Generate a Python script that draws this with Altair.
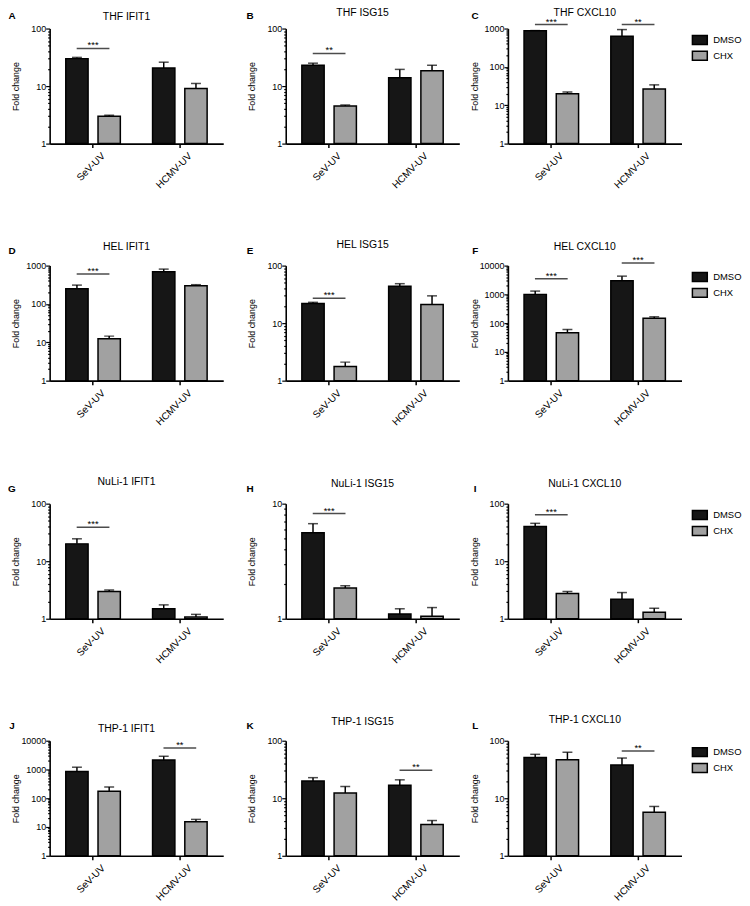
import altair as alt
import pandas as pd

FONT = "Liberation Sans"

# ---------------- data ----------------
titles = ["THF IFIT1", "THF ISG15", "THF CXCL10",
          "HEL IFIT1", "HEL ISG15", "HEL CXCL10",
          "NuLi-1 IFIT1", "NuLi-1 ISG15", "NuLi-1 CXCL10",
          "THP-1 IFIT1", "THP-1 ISG15", "THP-1 CXCL10"]
letters = ["A", "B", "C", "D", "E", "F", "G", "H", "I", "J", "K", "L"]
y_max = [100, 100, 1000, 1000, 100, 10000, 100, 10, 100, 10000, 100, 100]
groups = ["SeV-UV", "HCMV-UV"]
treatments = ["DMSO", "CHX"]
colors = ["#161616", "#a1a1a1"]

# mean values and upper end of error bar (mean + SEM)
dmso_sev = [30, 23, 870, 250, 22, 1000, 20, 5.6, 40, 850, 20, 51]
dmso_sev_up = [31.5, 25, 885, 310, 23, 1300, 24.5, 6.7, 45.5, 1200, 22.8, 58]
chx_sev = [3.0, 4.5, 20, 12.4, 1.76, 46, 2.96, 1.85, 2.74, 174, 12.3, 46.6]
chx_sev_up = [3.1, 4.7, 22, 14.5, 2.1, 60, 3.16, 1.93, 2.96, 245, 16, 63]
dmso_hcmv = [20.6, 14, 630, 690, 43.7, 3000, 1.49, 1.1, 2.19, 2150, 16.9, 38]
dmso_hcmv_up = [26, 19.5, 940, 810, 48.5, 4300, 1.74, 1.22, 2.85, 2880, 20.9, 50]
chx_hcmv = [9.1, 18.5, 26.5, 300, 21, 148, 1.07, 1.05, 1.3, 15.3, 3.5, 5.7]
chx_hcmv_up = [11.1, 23, 34, 318, 29.8, 166, 1.19, 1.25, 1.52, 18.4, 4.1, 7.2]

sig_sev = ["***", "**", "***", "***", "***", "***", "***", "***", "***", "", "", ""]
sig_sev_y = [45, 37, 1270, 600, 27, 3470, 39, 8.2, 64, None, None, None]
sig_hcmv = ["", "", "**", "", "", "***", "", "", "", "**", "**", "**"]
sig_hcmv_y = [None, None, 1270, None, None, 12300, None, None, None, 5600, 30.6, 66.5]

# ---------------- styling / layout ----------------
title_y = [-12, -16, -16, -19, -21, -19, -22, -20, -20, -12, -19, -21]
letter_x = [-38, -36, -33]
letter_y = [-13, -15, -15, -15]
PW, PH = 175, 116

MAJOR = "indexof([1, 10, 100, 1000, 10000], datum.value) >= 0"


def log_ticks(top):
    vals = []
    d = 1
    while d < top:
        vals += [m * d for m in range(1, 10)]
        d *= 10
    vals.append(top)
    return vals


def panel(i):
    row, col = divmod(i, 3)
    df = pd.DataFrame({
        "group": [groups[0], groups[0], groups[1], groups[1]],
        "treatment": ["DMSO", "CHX", "DMSO", "CHX"],
        "value": [dmso_sev[i], chx_sev[i], dmso_hcmv[i], chx_hcmv[i]],
        "upper": [dmso_sev_up[i], chx_sev_up[i], dmso_hcmv_up[i], chx_hcmv_up[i]],
    })
    sg, sy, st = [], [], []
    if sig_sev[i]:
        sg.append(groups[0]); sy.append(sig_sev_y[i]); st.append(sig_sev[i])
    if sig_hcmv[i]:
        sg.append(groups[1]); sy.append(sig_hcmv_y[i]); st.append(sig_hcmv[i])
    sdf = pd.DataFrame({"group": sg, "sig": sy, "stars": st})

    yscale = alt.Scale(type="log", domain=[1, y_max[i]], nice=False)
    yaxis = alt.Axis(
        values=log_ticks(y_max[i]), title="Fold change", titleFont=FONT,
        titleFontSize=9, titleFontWeight="normal", titleColor="black", titlePadding=0,
        labelExpr=MAJOR + " ? format(datum.value, 'd') : ''",
        labelFont=FONT, labelFontSize=9, labelColor="black", labelPadding=0,
        labelOverlap=False, labelFlush=False, labelBaseline="middle",
        tickSize={"condition": {"test": MAJOR, "value": 4}, "value": 2},
        tickColor="black", tickWidth=1.2, domainColor="black", domainWidth=1.6,
        grid=False, minExtent=29, maxExtent=29)
    xscale = alt.Scale(domain=groups, paddingInner=0.3714, paddingOuter=0.1857)
    xaxis = alt.Axis(title=None, labelAngle=-45, labelAlign="right", labelBaseline="top",
                     labelOffset=7, labelPadding=3, labelFont=FONT, labelFontSize=10,
                     labelColor="black", tickSize=4, tickWidth=1.5, tickColor="black",
                     domainColor="black", domainWidth=1.6, grid=False)
    X = alt.X("group:N", scale=xscale, axis=xaxis, sort=groups)
    XO = alt.XOffset("treatment:N", sort=treatments,
                     scale=alt.Scale(domain=treatments, paddingInner=0.3077, paddingOuter=0))

    if col == 2:
        legend = alt.Legend(title=None, orient="none", legendX=PW + 10, legendY=3,
                            padding=0,
                            symbolType="M-1,-0.6H1V0.6H-1Z", symbolSize=225,
                            symbolStrokeColor="black", symbolStrokeWidth=1.5,
                            labelFont=FONT, labelFontSize=9.5, labelColor="black",
                            labelOffset=5, rowPadding=0)
    else:
        legend = None
    F = alt.Fill("treatment:N", scale=alt.Scale(domain=treatments, range=colors),
                 legend=legend, sort=treatments)

    base = alt.Chart(df)
    stem = base.mark_rule(color="black", strokeWidth=1.5).encode(
        x=X, xOffset=XO, y=alt.Y("value:Q", scale=yscale, axis=yaxis), y2="upper:Q")
    cap = base.mark_tick(orient="horizontal", size=10, thickness=1.5, color="black").encode(
        x=X, xOffset=XO, y=alt.Y("upper:Q", scale=yscale, axis=yaxis))
    bars = base.mark_bar(stroke="black", strokeWidth=1.5).encode(
        x=X, xOffset=XO, y=alt.Y("value:Q", scale=yscale, axis=yaxis),
        y2=alt.datum(1), fill=F)
    layers = [stem, cap, bars]
    if len(sdf):
        sbase = alt.Chart(sdf)
        layers.append(sbase.mark_tick(orient="horizontal", size=33, thickness=1.5,
                                      color="black").encode(
            x=X, y=alt.Y("sig:Q", scale=yscale, axis=yaxis)))
        layers.append(sbase.mark_text(font=FONT, fontSize=9.5, baseline="alphabetic",
                                      dy=0, color="black").encode(
            x=X, y=alt.Y("sig:Q", scale=yscale, axis=yaxis), text="stars:N"))
    # panel letter
    layers.append(alt.Chart(pd.DataFrame({"letter": [letters[i]]})).mark_text(
        font=FONT, fontSize=10, fontWeight="bold", align="center", baseline="middle",
        color="black").encode(x=alt.value(letter_x[col]), y=alt.value(letter_y[row]),
                              text="letter:N"))
    # panel title
    layers.append(alt.Chart(pd.DataFrame({"title": [titles[i]]})).mark_text(
        font=FONT, fontSize=10.5, align="center", baseline="middle",
        color="black").encode(x=alt.value(PW / 2 - 10), y=alt.value(title_y[i]),
                              text="title:N"))
    return alt.layer(*layers).properties(width=PW, height=PH)


rows = []
for r in range(4):
    p = [panel(3 * r + c) for c in range(3)]
    left = alt.hconcat(p[0], p[1], spacing=23).resolve_scale(fill="independent")
    rows.append(alt.hconcat(left, p[2], spacing=11).resolve_scale(fill="independent"))

chart = (alt.vconcat(*rows, spacing=50)
         .resolve_scale(fill="independent")
         .properties(padding={"top": -4, "left": 0, "right": 0, "bottom": 10})
         .configure_view(stroke=None))

chart.save("out.html", embed_options={"renderer": "svg", "actions": False})
